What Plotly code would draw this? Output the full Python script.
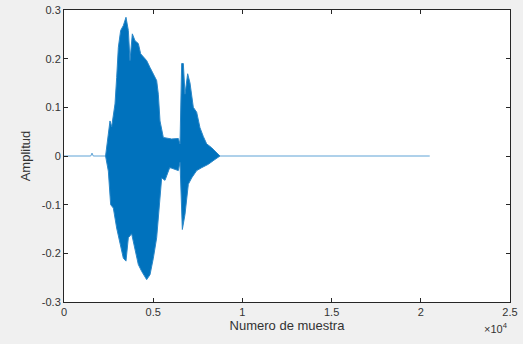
import plotly.graph_objects as go

# Envelope of the waveform (sample index, amplitude)
upper_x = [2330, 2392, 2578, 2672, 2859, 2952, 3046, 3176, 3326, 3475, 3606, 3699,
           3830, 3980, 4166, 4297, 4447, 4634, 4820, 5007, 5194, 5287, 5381, 5568, 5923, 6035,
           6409, 6502, 6596, 6689, 6782, 6932, 7062, 7249, 7436, 7623, 7810, 7996, 8277,
           8557, 8744]
upper_y = [0, 0.017, 0.072, 0.06, 0.107, 0.161, 0.223, 0.258, 0.268, 0.285, 0.258, 0.196,
           0.251, 0.237, 0.231, 0.21, 0.203, 0.196, 0.182, 0.169, 0.155, 0.127, 0.072, 0.038, 0.035, 0.035,
           0.036, 0.025, 0.19, 0.19, 0.127, 0.169, 0.15, 0.1, 0.09, 0.058, 0.04, 0.025, 0.017,
           0.007, 0]
lower_x = [2330, 2485, 2616, 2765, 2952, 3139, 3326, 3475, 3606, 3793, 3980, 4166,
           4353, 4634, 4820, 5007, 5194, 5343, 5474, 5661, 5923, 6035, 6409, 6502, 6633, 6782,
           6969, 7156, 7436, 7716, 8090, 8464, 8744]
lower_y = [0, -0.031, -0.1, -0.107, -0.148, -0.182, -0.21, -0.216, -0.168, -0.16, -0.189, -0.223,
           -0.237, -0.254, -0.244, -0.21, -0.168, -0.107, -0.045, -0.05, -0.024, -0.025, -0.03, -0.013, -0.151, -0.12,
           -0.058, -0.045, -0.03, -0.024, -0.017, -0.007, 0]
# Silent part of the recording (flat line) and the small click before the onset
silence_x = [0, 1500, 1570, 1640, 20500]
silence_y = [0, 0, 0.006, 0, 0]

x_tickvals = [0, 5000, 10000, 15000, 20000, 25000]
x_ticktext = ["0", "0.5", "1", "1.5", "2", "2.5"]
y_tickvals = [0.3, 0.2, 0.1, 0, -0.1, -0.2, -0.3]
y_ticktext = ["0.3", "0.2", "0.1", "0", "-0.1", "-0.2", "-0.3"]

blue = "#0072BD"
font_family = "Liberation Sans, Arial, sans-serif"
txt = "#333333"

fig = go.Figure()
fig.add_trace(go.Scatter(x=silence_x, y=silence_y, mode="lines",
                         line=dict(color="#5fa3d6", width=1), hoverinfo="skip", showlegend=False))
fig.add_trace(go.Scatter(x=upper_x, y=upper_y, mode="lines",
                         line=dict(color="#2a87c8", width=1), hoverinfo="skip", showlegend=False))
fig.add_trace(go.Scatter(x=lower_x, y=lower_y, mode="lines", fill="tonexty",
                         fillcolor=blue, line=dict(color="#2a87c8", width=1), hoverinfo="skip",
                         showlegend=False))

axis_common = dict(showgrid=False, zeroline=False, ticks="inside", ticklen=4, tickwidth=1,
                   tickcolor="#262626", showline=True, linecolor="#262626", linewidth=1,
                   mirror="ticks", automargin=False,
                   tickfont=dict(family=font_family, size=11, color=txt))

fig.update_xaxes(range=[0, 25000], tickvals=x_tickvals, ticktext=x_ticktext,
                 title=dict(text="Numero de muestra", font=dict(family=font_family, size=13, color=txt),
                            standoff=2),
                 **axis_common)
fig.update_yaxes(range=[-0.3, 0.3], tickvals=y_tickvals, ticktext=y_ticktext,
                 title=dict(text="Amplitud", font=dict(family=font_family, size=13, color=txt),
                            standoff=8),
                 **axis_common)

fig.add_annotation(text="×10<sup>4</sup>", xref="paper", yref="paper", x=1.0, y=0,
                   xanchor="right", yanchor="top", yshift=-17, showarrow=False,
                   font=dict(family=font_family, size=11, color=txt))

fig.update_layout(width=523, height=344, margin=dict(l=64, r=13, t=10, b=42),
                  paper_bgcolor="#f0f0f0", plot_bgcolor="white")

fig.write_html("out.html")
